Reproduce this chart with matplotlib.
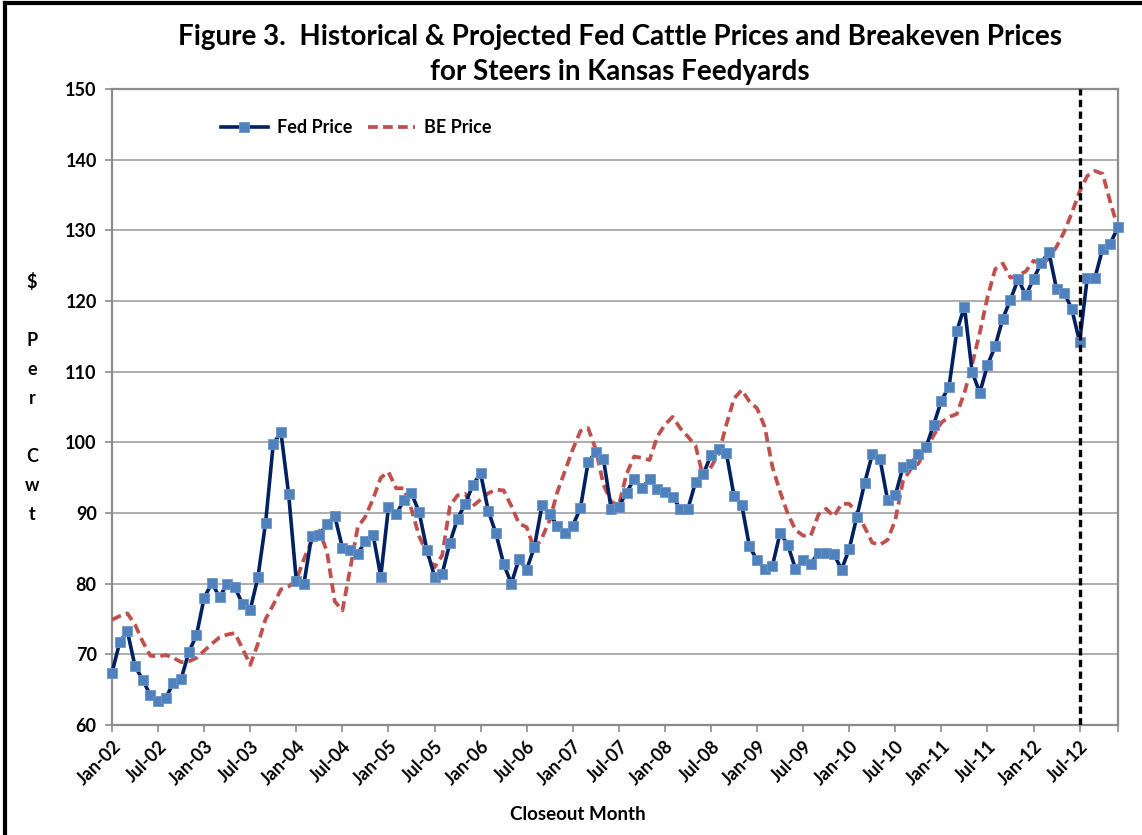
import numpy as np
import pandas as pd
import matplotlib
matplotlib.use("Agg")
import matplotlib.pyplot as plt
from matplotlib.lines import Line2D

# monthly closeouts, Jan-02 .. Dec-12
months = pd.date_range("2002-01-01", periods=132, freq="MS")

fed_price = [
    67.4, 71.7, 73.3, 68.3, 66.4, 64.2, 63.4, 63.8, 66.0, 66.5, 70.3, 72.7,      # 2002
    78.0, 80.1, 78.1, 80.0, 79.5, 77.1, 76.3, 80.9, 88.6, 99.8, 101.4, 92.7,     # 2003
    80.4, 80.0, 86.8, 86.9, 88.4, 89.6, 85.1, 84.7, 84.2, 86.1, 86.9, 81.0,      # 2004
    90.8, 89.8, 91.8, 92.8, 90.1, 84.8, 81.0, 81.4, 85.8, 89.2, 91.3, 94.0,      # 2005
    95.6, 90.3, 87.1, 82.8, 80.0, 83.5, 82.0, 85.2, 91.1, 89.8, 88.2, 87.1,      # 2006
    88.2, 90.7, 97.2, 98.6, 97.6, 90.6, 90.9, 92.9, 94.8, 93.5, 94.8, 93.4,      # 2007
    93.0, 92.3, 90.6, 90.6, 94.4, 95.5, 98.2, 99.1, 98.5, 92.4, 91.2, 85.3,      # 2008
    83.3, 82.1, 82.5, 87.2, 85.5, 82.1, 83.3, 82.8, 84.4, 84.3, 84.2, 82.0,      # 2009
    84.9, 89.5, 94.2, 98.3, 97.7, 91.8, 92.5, 96.5, 97.0, 98.3, 99.3, 102.5,     # 2010
    105.9, 107.9, 115.7, 119.2, 110.0, 107.0, 110.9, 113.6, 117.5, 120.2, 123.1, 120.8,  # 2011
    123.1, 125.4, 126.9, 121.7, 121.2, 118.8, 114.2, 123.3, 123.3, 127.4, 128.1, 130.5,  # 2012
]

be_price = [
    74.9, 75.4, 75.8, 74.2, 71.8, 69.8, 69.7, 69.9, 69.5, 68.9, 69.0, 69.5,
    70.5, 71.5, 72.4, 72.8, 73.0, 70.8, 68.5, 71.5, 75.0, 77.0, 79.2, 79.6,
    80.5, 83.5, 86.0, 87.5, 84.5, 77.5, 76.2, 82.0, 88.0, 89.5, 92.0, 95.0,
    95.8, 93.5, 93.5, 90.5, 86.7, 84.3, 82.3, 84.0, 91.0, 92.5, 92.7, 91.0,
    91.9, 92.8, 93.3, 93.2, 91.0, 88.5, 88.0, 84.8, 86.5, 89.0, 93.0, 96.0,
    99.0, 101.6, 102.0, 99.0, 94.0, 91.6, 91.1, 95.5, 98.0, 97.8, 97.5, 100.8,
    102.5, 103.6, 102.0, 100.8, 99.5, 95.0, 96.5, 98.4, 102.5, 106.2, 107.4, 105.8,
    104.8, 102.2, 96.5, 93.0, 89.9, 87.6, 86.8, 86.8, 89.8, 90.6, 89.5, 91.3,
    91.3, 90.0, 88.0, 85.8, 85.5, 86.2, 89.0, 94.5, 96.2, 97.0, 99.0, 101.0,
    102.8, 103.6, 104.0, 107.0, 111.0, 115.5, 120.5, 124.5, 125.3, 123.3, 123.6, 124.2,
    125.7, 125.2, 126.0, 127.7, 129.8, 132.5, 135.5, 137.7, 138.4, 138.0, 134.0, 130.3,
]

projection_start = pd.Timestamp("2012-07-01")

plt.rcParams["font.family"] = ["Lato", "DejaVu Sans"]
plt.rcParams["font.weight"] = "bold"

fig = plt.figure(figsize=(11.42, 8.35), dpi=100)
ax = fig.add_axes([112 / 1142, 110 / 835, 1006 / 1142, 636 / 835])

x = np.arange(len(months))
be_line, = ax.plot(x, be_price, color="#C0504D", lw=2.7, ls=(0, (2.6, 1.4)),
                   label="BE Price", zorder=3)
fed_line, = ax.plot(x, fed_price, color="#002060", lw=2.6, marker="s", ms=7.5,
                    mfc="#4F81BD", mec="#6A95CC", mew=0.6, label="Fed Price",
                    zorder=4, clip_on=False)

ax.axvline(months.get_loc(projection_start), color="black", lw=2.4,
           ls=(0, (2.2, 1.3)), zorder=5)

ax.set_xlim(0, len(months) - 1)
ax.set_ylim(60, 150)
ax.set_yticks(range(60, 151, 10))

tick_pos = x[::6]
ax.set_xticks(np.append(tick_pos, len(months) - 1))
ax.set_xticklabels([months[i].strftime("%b-%y") for i in tick_pos] + [""],
                   rotation=45, ha="right", rotation_mode="anchor")

ax.yaxis.grid(True, color="#A6A6A6", lw=1.3)
ax.set_axisbelow(True)
for s in ax.spines.values():
    s.set_color("#8C8C8C")
    s.set_linewidth(1.6)
ax.tick_params(axis="both", direction="out", length=5, color="#8C8C8C",
               labelsize=13, width=1.2)
ax.tick_params(axis="x", pad=4)
ax.tick_params(axis="y", pad=6)

ax.legend(handles=[fed_line, be_line], loc="center left",
          bbox_to_anchor=(0.108, 0.939), ncol=2, frameon=False,
          fontsize=13, handlelength=2.6, columnspacing=0.9,
          handletextpad=0.5, borderpad=0, borderaxespad=0)

fig.text(620 / 1142, 1 - 37 / 835,
         "Figure 3.  Historical & Projected Fed Cattle Prices and Breakeven Prices",
         ha="center", va="center", fontsize=20)
fig.text(620 / 1142, 1 - 72 / 835, "for Steers in Kansas Feedyards",
         ha="center", va="center", fontsize=20)
fig.text(32 / 1142, 1 - 398 / 835, "$\n\nP\ne\nr\n\nC\nw\nt",
         ha="center", va="center", fontsize=13, linespacing=1.85)
fig.text(578 / 1142, 1 - 815 / 835, "Closeout Month", ha="center",
         va="center", fontsize=13.5)

# outer frame (left and top edges visible)
fig.add_artist(Line2D([0.004, 0.004], [0, 0.996], transform=fig.transFigure,
                      color="black", lw=3))
fig.add_artist(Line2D([0.004, 1], [0.996, 0.996], transform=fig.transFigure,
                      color="black", lw=3))

fig.savefig("out.png", dpi=100)
